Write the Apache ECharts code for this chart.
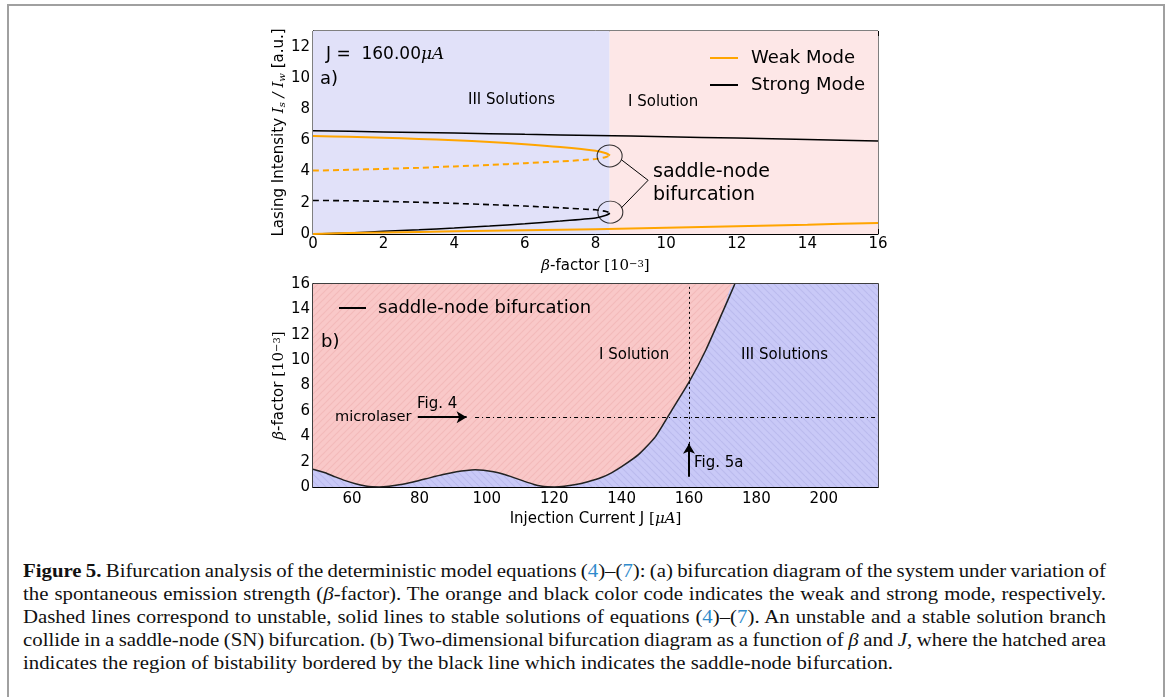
<!DOCTYPE html>
<html>
<head>
<meta charset="utf-8">
<script src="https://cdn.jsdelivr.net/npm/echarts@6/dist/echarts.min.js"></script>
<style>
html, body { margin: 0; padding: 0; background: #fff; }
#frame { position: absolute; left: 7px; top: 4px; width: 1154px; height: 760px; border: 2px solid #a0a0a0; border-bottom: none; z-index: 5; pointer-events: none; }
#chart { position: absolute; left: 0; top: 0; width: 1171px; height: 540px; }
#caption { position: absolute; left: 23px; top: 559px; font-family: "Liberation Serif", serif; font-size: 19px; line-height: 23px; color: #111; transform-origin: 0 0; }
#caption div { white-space: nowrap; }
#caption span.ln { display: inline-block; }
.blue { color: #2f8bcc; }
</style>
</head>
<body>
<div id="chart"></div>
<div id="frame"></div>
<div id="caption">
  <div><span class="ln"><b>Figure 5.</b> Bifurcation analysis of the deterministic model equations (<span class="blue">4</span>)–(<span class="blue">7</span>): (a) bifurcation diagram of the system under variation of</span></div>
  <div><span class="ln">the spontaneous emission strength (<i>β</i>-factor). The orange and black color code indicates the weak and strong mode, respectively.</span></div>
  <div><span class="ln">Dashed lines correspond to unstable, solid lines to stable solutions of equations (<span class="blue">4</span>)–(<span class="blue">7</span>). An unstable and a stable solution branch</span></div>
  <div><span class="ln">collide in a saddle-node (SN) bifurcation. (b) Two-dimensional bifurcation diagram as a function of <i>β</i> and <i>J</i>, where the hatched area</span></div>
  <div><span class="ln">indicates the region of bistability bordered by the black line which indicates the saddle-node bifurcation.</span></div>
</div>
<script>
// ---- data: panel a) (beta in 1e-3, intensity in a.u.)
var betaTicks = [0, 2, 4, 6, 8, 10, 12, 14, 16];
var intensityTicks = [0, 2, 4, 6, 8, 10, 12];
var betaSN = 8.4;   // border between III and I solutions

var strongUpper = [[0, 6.62], [2, 6.54], [4, 6.46], [6, 6.38], [8, 6.31], [10, 6.23], [12, 6.14], [14, 6.05], [16, 5.96]];
var strongUnstable = [[0, 2.15], [1, 2.13], [2, 2.09], [3, 2.03], [4, 1.96], [5, 1.88], [6, 1.79], [7, 1.68], [8, 1.55], [8.3, 1.44], [8.41, 1.35]];
var strongLower = [[0, 0], [1, 0.07], [2, 0.17], [3, 0.27], [4, 0.38], [5, 0.51], [6, 0.66], [7, 0.83], [8, 1.03], [8.3, 1.2], [8.41, 1.33]];
var weakUpper = [[0, 6.27], [1, 6.22], [2, 6.16], [3, 6.09], [4, 6.0], [5, 5.89], [6, 5.75], [7, 5.57], [8, 5.33], [8.3, 5.17], [8.41, 5.03]];
var weakUnstable = [[0, 4.06], [1, 4.11], [2, 4.17], [3, 4.24], [4, 4.33], [5, 4.42], [6, 4.53], [7, 4.65], [8, 4.8], [8.3, 4.93], [8.41, 5.03]];
var weakLower = [[0, 0], [1, 0.06], [2, 0.1], [4, 0.17], [6, 0.24], [8, 0.31], [10, 0.4], [12, 0.5], [14, 0.6], [16, 0.71]];
var snCircles = [[8.4, 5.0], [8.42, 1.4]];
var snPointer = [[8.73, 4.76], [9.49, 3.44], [8.73, 1.67]];

// ---- data: panel b) (injection current in uA, beta in 1e-3)
var currentTicks = [60, 80, 100, 120, 140, 160, 180, 200];
var currentRange = [48.4, 216.1];
var snCurrent = [48.4, 52, 55, 58, 61, 64, 66, 68, 71, 75, 79, 83, 87, 91, 94, 96.5, 99, 102, 105, 108, 111, 114, 116, 118, 120, 123, 126, 130, 134, 137, 140, 145, 150, 155, 160, 165, 170, 173.6];
var snBeta = [1.4, 1.12, 0.8, 0.5, 0.25, 0.07, 0.01, 0, 0.06, 0.22, 0.45, 0.72, 0.98, 1.2, 1.31, 1.35, 1.32, 1.2, 1.0, 0.74, 0.46, 0.2, 0.07, 0.01, 0, 0.05, 0.17, 0.42, 0.75, 1.12, 1.6, 2.55, 3.95, 6.1, 8.26, 10.8, 13.8, 16];
var microlaserBeta = 5.5;
var fig4Arrow = [79.5, 94.0];
var fig5aCurrent = 160;
var fig5aArrow = [0.8, 3.4];

var snCurve = snCurrent.map(function (j, i) { return [j, snBeta[i]]; });
var bistableArea = snCurve.concat([[currentRange[1], 16]]);

var FONT = 'DejaVu Sans';

// diagonal hatch tile, dir 1 = "/", dir -1 = "\"
function hatch(base, stroke, dir) {
    var n = 7;
    var c = document.createElement('canvas');
    c.width = n; c.height = n;
    var g = c.getContext('2d');
    g.fillStyle = base;
    g.fillRect(0, 0, n, n);
    g.strokeStyle = stroke;
    g.lineWidth = 1.2;
    g.beginPath();
    if (dir > 0) {
        g.moveTo(0, n); g.lineTo(n, 0);
        g.moveTo(-n, n); g.lineTo(0, 0);
        g.moveTo(0, 2 * n); g.lineTo(2 * n, 0);
    } else {
        g.moveTo(0, 0); g.lineTo(n, n);
        g.moveTo(-n, 0); g.lineTo(0, n);
        g.moveTo(0, -n); g.lineTo(n, 0);
    }
    g.stroke();
    return c;
}

var chart = echarts.init(document.getElementById('chart'));

function valueAxis(grid, min, max, ticks, pos, extra) {
    return {
        type: 'value', gridIndex: grid, min: min, max: max, position: pos,
        splitLine: { show: false },
        axisLine: { show: !extra, onZero: false, lineStyle: { color: '#000', width: 1 } },
        axisTick: { show: true, inside: true, length: 5, customValues: ticks, lineStyle: { color: '#000' } },
        axisLabel: { show: !extra, customValues: ticks, color: '#000', fontFamily: FONT, fontSize: 15, margin: 3 }
    };
}

var richMath = {
    b: { fontFamily: 'DejaVu Serif', fontStyle: 'italic', fontSize: 15 },
    n: { fontFamily: 'DejaVu Serif', fontSize: 15 },
    m: { fontFamily: 'DejaVu Serif', fontStyle: 'italic', fontSize: 15 },
    sub: { fontFamily: 'DejaVu Serif', fontStyle: 'italic', fontSize: 10, verticalAlign: 'bottom' },
    sup: { fontFamily: 'DejaVu Serif', fontSize: 10, verticalAlign: 'top' }
};

var xTopA = valueAxis(0, 0, 16, betaTicks, 'bottom', false);
xTopA.name = '{b|β}-factor {n|[10}{sup|−3}{n|]}';
xTopA.nameLocation = 'middle'; xTopA.nameGap = 25;
xTopA.nameTextStyle = { color: '#000', fontFamily: FONT, fontSize: 15, rich: richMath };

var xBottom = valueAxis(1, currentRange[0], currentRange[1], currentTicks, 'bottom', false);
xBottom.axisLabel.margin = 5;
xBottom.name = 'Injection Current J {n|[}{m|μA}{n|]}';
xBottom.nameLocation = 'middle'; xBottom.nameGap = 25;
xBottom.nameTextStyle = { color: '#000', fontFamily: FONT, fontSize: 15, rich: richMath };

var yA = valueAxis(0, 0, 13, intensityTicks, 'left', false);
yA.name = 'Lasing Intensity {m|I}{sub|s}{m| / I}{sub|w} [a.u.]';
yA.nameLocation = 'middle'; yA.nameGap = 19;
yA.nameTextStyle = { color: '#000', fontFamily: FONT, fontSize: 15, rich: richMath };

var yB = valueAxis(1, 0, 16, betaTicks, 'left', false);
yB.name = '{b|β}-factor {n|[10}{sup|−3}{n|]}';
yB.nameLocation = 'middle'; yB.nameGap = 19;
yB.nameTextStyle = { color: '#000', fontFamily: FONT, fontSize: 15, rich: richMath };

function txt(x, y, s, size, rich) {
    return {
        type: 'text', x: x, y: y, z: 100,
        style: { text: s, fill: '#000', fontFamily: FONT, fontSize: size, verticalAlign: 'middle', align: 'left', rich: rich }
    };
}

var option = {
    animation: false,
    backgroundColor: 'transparent',
    grid: [
        { left: 313, top: 31, width: 565, height: 203, show: true, borderColor: '#000', borderWidth: 1, backgroundColor: 'transparent' },
        { left: 313, top: 284, width: 565, height: 203, show: true, borderColor: '#000', borderWidth: 1.5, backgroundColor: 'transparent' }
    ],
    xAxis: [
        xTopA,
        xBottom,
        valueAxis(0, 0, 16, betaTicks, 'top', true),
        valueAxis(1, currentRange[0], currentRange[1], currentTicks, 'top', true)
    ],
    yAxis: [
        yA,
        yB,
        valueAxis(0, 0, 13, intensityTicks, 'right', true),
        valueAxis(1, 0, 16, betaTicks, 'right', true)
    ],
    legend: [
        {
            left: 705, top: 44, orient: 'vertical', itemWidth: 28, itemHeight: 2, itemGap: 9,
            icon: 'rect', selectedMode: false, data: ['Weak Mode', 'Strong Mode'],
            textStyle: { color: '#000', fontFamily: FONT, fontSize: 18, padding: [0, 0, 0, 8] }
        },
        {
            left: 334, top: 294, orient: 'vertical', itemWidth: 27, itemHeight: 2,
            icon: 'rect', selectedMode: false, data: ['saddle-node bifurcation'],
            textStyle: { color: '#000', fontFamily: FONT, fontSize: 18, padding: [0, 0, 0, 7] }
        }
    ],
    graphic: [
        txt(326, 55, 'J =  160.00{m|μA}', 17, { m: { fontFamily: 'DejaVu Serif', fontStyle: 'italic', fontSize: 17 } }),
        txt(320, 79, 'a)', 18),
        txt(468, 100, 'III Solutions', 15),
        txt(628, 102, 'I Solution', 15),
        txt(653, 172, 'saddle-node', 19),
        txt(653, 195, 'bifurcation', 19),
        txt(321, 342, 'b)', 18),
        txt(599, 355, 'I Solution', 15),
        txt(741, 355, 'III Solutions', 15),
        txt(335, 417, 'microlaser', 14.6),
        txt(417, 404, 'Fig. 4', 15),
        txt(694, 463, 'Fig. 5a', 15)
    ],
    series: [
        {
            name: 'bgA', type: 'line', xAxisIndex: 0, yAxisIndex: 0, data: [], z: 1, silent: true,
            markArea: {
                silent: true,
                data: [
                    [{ xAxis: 0, itemStyle: { color: '#e1e1f9', opacity: 1 } }, { xAxis: betaSN }],
                    [{ xAxis: betaSN, itemStyle: { color: '#fde7e7', opacity: 1 } }, { xAxis: 16 }]
                ]
            }
        },
        { name: 'Strong Mode', type: 'line', xAxisIndex: 0, yAxisIndex: 0, data: strongUpper, smooth: 0.2, symbol: 'none', z: 3, lineStyle: { color: '#000', width: 1.5 }, itemStyle: { color: '#000' } },
        { name: 'strong unstable', type: 'line', xAxisIndex: 0, yAxisIndex: 0, data: strongUnstable, smooth: 0.2, symbol: 'none', z: 3, lineStyle: { color: '#000', width: 1.6, type: [6, 4] } },
        { name: 'strong lower', type: 'line', xAxisIndex: 0, yAxisIndex: 0, data: strongLower, smooth: 0.2, symbol: 'none', z: 3, lineStyle: { color: '#000', width: 1.5 } },
        { name: 'weak upper', type: 'line', xAxisIndex: 0, yAxisIndex: 0, data: weakUpper, smooth: 0.3, symbol: 'none', z: 3, lineStyle: { color: '#ffa500', width: 2 } },
        { name: 'weak unstable', type: 'line', xAxisIndex: 0, yAxisIndex: 0, data: weakUnstable, smooth: 0.3, symbol: 'none', z: 3, lineStyle: { color: '#ffa500', width: 2, type: [6, 4] } },
        { name: 'Weak Mode', type: 'line', xAxisIndex: 0, yAxisIndex: 0, data: weakLower, smooth: 0.2, symbol: 'none', z: 3, lineStyle: { color: '#ffa500', width: 2 }, itemStyle: { color: '#ffa500' } },
        {
            name: 'sn circles', type: 'scatter', xAxisIndex: 0, yAxisIndex: 0, data: snCircles, symbol: 'circle', symbolSize: [25, 22], z: 4, silent: true,
            itemStyle: { color: 'rgba(0,0,0,0)', borderColor: '#000', borderWidth: 1 }
        },
        { name: 'sn pointer', type: 'line', xAxisIndex: 0, yAxisIndex: 0, data: snPointer, symbol: 'none', z: 4, lineStyle: { color: '#000', width: 1 } },

        {
            name: 'bgB', type: 'line', xAxisIndex: 1, yAxisIndex: 1, data: [], z: 1, silent: true,
            markArea: {
                silent: true,
                data: [[{ xAxis: currentRange[0], yAxis: 0, itemStyle: { color: { image: hatch('#f9c8c8', '#f3baba', 1), repeat: 'repeat' }, opacity: 1 } }, { xAxis: currentRange[1], yAxis: 16 }]]
            }
        },
        {
            name: 'bistable', type: 'line', xAxisIndex: 1, yAxisIndex: 1, data: bistableArea, smooth: 0.2, symbol: 'none', z: 2, silent: true,
            lineStyle: { width: 0, opacity: 0 },
            areaStyle: { origin: 'start', opacity: 1, color: { image: hatch('#c9c9f7', '#bbbbee', -1), repeat: 'repeat' } }
        },
        { name: 'saddle-node bifurcation', type: 'line', xAxisIndex: 1, yAxisIndex: 1, data: snCurve, smooth: 0.2, symbol: 'none', z: 3, lineStyle: { color: '#222', width: 1.5 }, itemStyle: { color: '#000' } },
        {
            name: 'guides', type: 'line', xAxisIndex: 1, yAxisIndex: 1, data: [], z: 4, silent: true,
            markLine: {
                silent: true, animation: false, label: { show: false },
                data: [
                    [{ coord: [fig4Arrow[0], microlaserBeta], symbol: 'none', lineStyle: { color: '#000', width: 2, type: 'solid' } },
                     { coord: [fig4Arrow[1], microlaserBeta], symbol: 'arrow', symbolSize: [9, 10] }],
                    [{ coord: [fig4Arrow[1] + 2.5, microlaserBeta], symbol: 'none', lineStyle: { color: '#000', width: 1, type: [4, 3, 1, 3] } },
                     { coord: [currentRange[1], microlaserBeta], symbol: 'none' }],
                    [{ coord: [fig5aCurrent, fig5aArrow[0]], symbol: 'none', lineStyle: { color: '#000', width: 2, type: 'solid' } },
                     { coord: [fig5aCurrent, fig5aArrow[1]], symbol: 'arrow', symbolSize: [9, 10] }],
                    [{ coord: [fig5aCurrent, fig5aArrow[1]], symbol: 'none', lineStyle: { color: '#000', width: 1, type: [2, 3] } },
                     { coord: [fig5aCurrent, 16], symbol: 'none' }]
                ]
            }
        }
    ]
};

chart.setOption(option);

// caption: condense horizontally and justify lines 1-4
(function () {
    var cap = document.getElementById('caption');
    var lines = cap.querySelectorAll('span.ln');
    var lastTarget = 870, fullTarget = 1083;
    var s = lastTarget / lines[4].getBoundingClientRect().width;
    cap.style.transform = 'scaleX(' + s + ')';
    for (var i = 0; i < 4; i++) {
        var w = lines[i].getBoundingClientRect().width / s;
        var spaces = (lines[i].textContent.match(/ /g) || []).length;
        lines[i].style.wordSpacing = ((fullTarget / s - w) / spaces) + 'px';
    }
})();
</script>
</body>
</html>
